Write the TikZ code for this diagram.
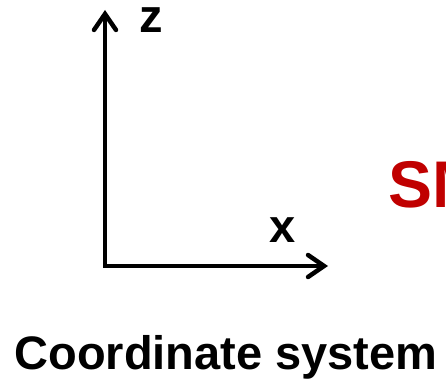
\documentclass[tikz,border=0pt]{standalone}
\usepackage{fontspec}
\setmainfont{Liberation Sans}
\usetikzlibrary{arrows.meta}
\begin{document}
\begin{tikzpicture}[x=1pt, y=-1pt]
    \definecolor{titleColour}{HTML}{C00000}
    \tikzset{
        axisLine/.style={line width=4.5pt, line cap=rect, -{Straight Barb[length=16pt, width=22pt, line cap=round]}},
        axisLabel/.style={font=\fontsize{47}{47}\selectfont\bfseries, inner sep=0pt, text height=24pt, anchor=base west}
    }

    % Picture frame, the right side cuts the red text
    \useasboundingbox (0,0) rectangle (446,382);
    \clip (0,0) rectangle (446,382);

    % Origin and axis ends
    \coordinate (origin) at (105,266);
    \coordinate (zEnd) at (105,10);
    \coordinate (xEnd) at (328,266);

    % Draw axes
    \draw[axisLine] (origin) -- (zEnd);
    \draw[axisLine] (origin) -- (xEnd);

    % Axis labels
    \node[axisLabel] (zLabel) at (139,33) {z};
    \node[axisLabel] (xLabel) at (269,242) {x};

    % Red title and caption
    \node[font=\fontsize{66}{66}\selectfont\bfseries, text=titleColour, inner sep=0pt, anchor=base west] (smLabel) at (388,207) {SM};
    \node[font=\fontsize{47}{47}\selectfont\bfseries, inner sep=0pt, anchor=base] (caption) at (226,369) {Coordinate system};

\end{tikzpicture}
\end{document}
